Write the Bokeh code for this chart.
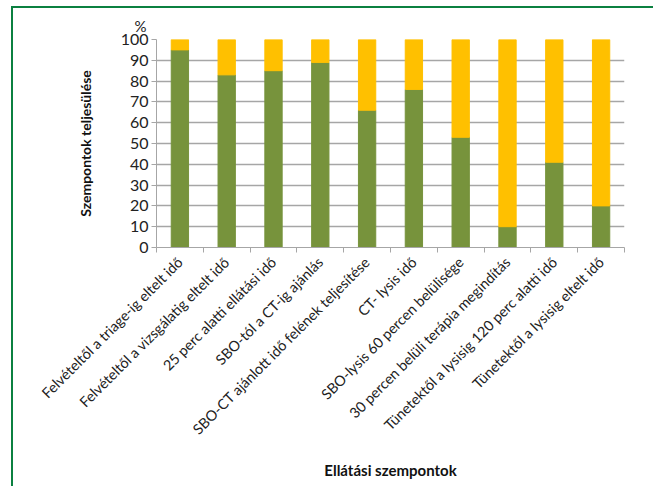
import numpy as np
from math import pi
from bokeh.plotting import figure
from bokeh.models import Range1d, FixedTicker, ColumnDataSource
from bokeh.embed import file_html
from bokeh.resources import INLINE

categories = [
    "Felvételtől a triage-ig eltelt idő",
    "Felvételtől a vizsgálatig eltelt idő",
    "25 perc alatti ellátási idő",
    "SBO-tól a CT-ig ajánlás",
    "SBO-CT ajánlott idő felének teljesítése",
    "CT- lysis idő",
    "SBO-lysis 60 percen belülisége",
    "30 percen belüli terápia megindítás",
    "Tünetektől a lysisig 120 perc alatti idő",
    "Tünetektől a lysisig eltelt idő",
]
teljesult = [95, 83, 85, 89, 66, 76, 53, 10, 41, 20]
nem_teljesult = [5, 17, 15, 11, 34, 24, 47, 90, 59, 80]
y_ticks = [0, 10, 20, 30, 40, 50, 60, 70, 80, 90, 100]

GREEN = "#77933C"
YELLOW = "#FFC000"
GRID = "#A6A6A6"
FONT = "Lato"

n = len(categories)
idx = np.arange(n) + 0.5
top_green = np.array(teljesult, dtype=float)
top_all = top_green + np.array(nem_teljesult, dtype=float)

src = ColumnDataSource(dict(x=idx, g=top_green, t=top_all, zero=np.zeros(n)))

p = figure(width=642, height=480, x_range=Range1d(0, n), y_range=Range1d(0, 100),
           output_backend="svg", toolbar_location=None, title="%",
           min_border_left=143, min_border_right=31, min_border_top=31, min_border_bottom=241)
p.margin = (6, 0, 0, 11)
p.styles = {"border-left": "2px solid #0B8040", "border-top": "2px solid #0B8040"}
p.outline_line_color = None

p.title.align = "left"
p.title.offset = -22
p.title.text_font = FONT
p.title.text_font_size = "15px"
p.title.text_font_style = "normal"
p.title.text_color = "#222222"
p.title.standoff = 10

p.vbar(x="x", bottom="zero", top="g", width=0.37, color=GREEN, source=src)
p.vbar(x="x", bottom="g", top="t", width=0.37, color=YELLOW, source=src)

p.xgrid.grid_line_color = None
p.ygrid.ticker = FixedTicker(ticks=y_ticks)
p.ygrid.grid_line_color = GRID
p.ygrid.grid_line_width = 1.3

p.yaxis.ticker = FixedTicker(ticks=y_ticks)
p.yaxis.axis_line_color = GRID
p.yaxis.major_tick_line_color = GRID
p.yaxis.major_tick_out = 5
p.yaxis.major_tick_in = 0
p.yaxis.minor_tick_line_color = None
p.yaxis.major_label_text_font = FONT
p.yaxis.major_label_text_font_size = "16px"
p.yaxis.major_label_text_color = "#222222"
p.yaxis.major_label_standoff = 3
p.yaxis.axis_label = "Szempontok teljesülése"
p.yaxis.axis_label_text_font = FONT
p.yaxis.axis_label_text_font_style = "bold"
p.yaxis.axis_label_text_font_size = "14px"
p.yaxis.axis_label_text_color = "#111111"
p.yaxis.axis_label_standoff = 24

p.xaxis.ticker = FixedTicker(ticks=list(idx), minor_ticks=list(range(n + 1)))
p.xaxis.major_label_overrides = {float(x): c for x, c in zip(idx, categories)}
p.xaxis.major_label_orientation = pi / 4
p.xaxis.major_label_text_font = FONT
p.xaxis.major_label_text_font_size = "14.4px"
p.xaxis.major_label_text_color = "#222222"
p.xaxis.major_label_standoff = 6
p.xaxis.axis_line_color = GRID
p.xaxis.major_tick_line_color = None
p.xaxis.minor_tick_line_color = GRID
p.xaxis.minor_tick_out = 5
p.xaxis.minor_tick_in = 0
p.xaxis.axis_label = "Ellátási szempontok"
p.xaxis.axis_label_text_font = FONT
p.xaxis.axis_label_text_font_style = "bold"
p.xaxis.axis_label_text_font_size = "15px"
p.xaxis.axis_label_text_color = "#111111"
p.xaxis.axis_label_standoff = 14

open("out.html", "w").write(file_html(p, INLINE))
